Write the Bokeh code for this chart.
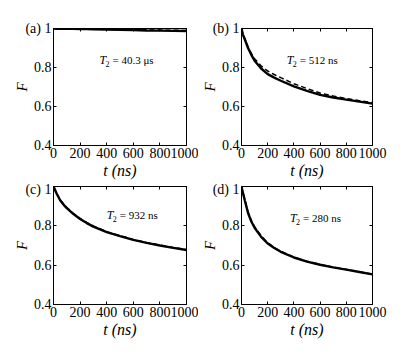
from bokeh.plotting import figure
from bokeh.layouts import column, row
from bokeh.models import LinearAxis, FixedTicker, CustomJSTickFormatter, Range1d, Label
from bokeh.embed import file_html
from bokeh.resources import INLINE

t = [0, 10, 25, 50, 75, 100, 150, 200, 250, 300, 400, 500, 600, 700, 800, 900, 1000]

a_solid = [1.0, 1.0, 0.999, 0.999, 0.999, 0.998, 0.998, 0.997, 0.997, 0.996, 0.995, 0.993, 0.992, 0.990, 0.989, 0.988, 0.987]
a_dash = [1.0, 1.0, 1.0, 0.999, 0.999, 0.999, 0.998, 0.998, 0.997, 0.997, 0.996, 0.995, 0.994, 0.993, 0.992, 0.991, 0.990]

b_solid = [1.0, 0.97, 0.945, 0.90, 0.865, 0.835, 0.795, 0.766, 0.748, 0.732, 0.703, 0.68, 0.66, 0.646, 0.635, 0.625, 0.615]
b_dash = [1.0, 0.972, 0.948, 0.905, 0.872, 0.845, 0.808, 0.782, 0.764, 0.748, 0.717, 0.692, 0.669, 0.654, 0.641, 0.63, 0.62]

c_solid = [1.0, 0.985, 0.962, 0.93, 0.908, 0.89, 0.86, 0.835, 0.814, 0.796, 0.768, 0.748, 0.729, 0.713, 0.700, 0.688, 0.677]
c_dash = [1.0, 0.986, 0.964, 0.933, 0.911, 0.893, 0.863, 0.838, 0.817, 0.799, 0.770, 0.750, 0.731, 0.715, 0.702, 0.690, 0.679]

d_solid = [1.0, 0.97, 0.93, 0.865, 0.822, 0.79, 0.744, 0.71, 0.687, 0.668, 0.639, 0.618, 0.602, 0.589, 0.577, 0.565, 0.553]
d_dash = [1.0, 0.972, 0.934, 0.87, 0.827, 0.796, 0.749, 0.714, 0.690, 0.671, 0.641, 0.620, 0.604, 0.590, 0.578, 0.566, 0.554]

panel_labels = ["(a)", "(b)", "(c)", "(d)"]
t2_texts = ["= 40.3 \u03bcs", "= 512 ns", "= 932 ns", "= 280 ns"]
t2_pos = [(346, 0.836), (346, 0.836), (400, 0.853), (370, 0.84)]

x_ticks = [0, 200, 400, 600, 800, 1000]
y_ticks = [0.4, 0.6, 0.8, 1.0]

SERIF = "Liberation Serif"


def hidden_axis(ticks):
    return LinearAxis(ticker=FixedTicker(ticks=ticks), major_tick_in=3, major_tick_out=0,
                      minor_tick_in=0, minor_tick_out=0, major_label_text_font_size="1px",
                      major_label_text_color=None, major_label_standoff=0,
                      axis_line_color="black", major_tick_line_color="black")


def make_panel(solid, dash, plabel, t2text, t2xy, width, height, bl, br, bt, bb):
    p = figure(width=width, height=height, output_backend="svg", toolbar_location=None,
               x_range=Range1d(0, 1000), y_range=Range1d(0.4, 1.0),
               min_border_left=bl, min_border_right=br, min_border_top=bt, min_border_bottom=bb,
               x_axis_label="t (ns)", y_axis_label="F")
    p.grid.visible = False
    p.outline_line_color = "black"
    p.outline_line_width = 1
    p.background_fill_color = "white"
    p.border_fill_color = "white"

    # the panel letter sits just left of the "1" tick label, as in the reference
    fmt_y = CustomJSTickFormatter(args=dict(letter=plabel),
                                  code="return (tick == 1) ? letter + ' 1' : tick.toFixed(1);")
    for ax in p.xaxis:
        ax.ticker = FixedTicker(ticks=x_ticks)
    for ax in p.yaxis:
        ax.ticker = FixedTicker(ticks=y_ticks)
        ax.formatter = fmt_y
    for ax in list(p.xaxis) + list(p.yaxis):
        ax.major_tick_in = 3
        ax.major_tick_out = 0
        ax.minor_tick_in = 0
        ax.minor_tick_out = 0
        ax.axis_line_color = "black"
        ax.major_tick_line_color = "black"
        ax.major_label_text_font = SERIF
        ax.major_label_text_font_size = "14px"
        ax.major_label_text_color = "black"
        ax.major_label_standoff = 2
        ax.axis_label_text_font = SERIF
        ax.axis_label_text_font_style = "italic"
        ax.axis_label_text_color = "black"
        ax.axis_label_standoff = 1
    p.xaxis.axis_label_text_font_size = "16px"
    p.yaxis.axis_label_text_font_size = "15px"
    p.yaxis.axis_label_standoff = -8

    p.add_layout(hidden_axis(x_ticks), "above")
    p.add_layout(hidden_axis(y_ticks), "right")

    p.line(t, solid, line_color="black", line_width=2.4)
    p.line(t, dash, line_color="black", line_width=1.5, line_dash="5 3")

    tx, ty = t2xy
    p.add_layout(Label(x=tx, y=ty, text="T", text_align="left", text_baseline="middle",
                       text_font=SERIF, text_font_style="italic", text_font_size="12px",
                       text_color="black"))
    p.add_layout(Label(x=tx, y=ty, x_offset=6, y_offset=-4, text="2", text_align="left",
                       text_baseline="middle", text_font=SERIF, text_font_size="8px",
                       text_color="black"))
    p.add_layout(Label(x=tx, y=ty, x_offset=13, text=t2text, text_align="left",
                       text_baseline="middle", text_font=SERIF, text_font_size="11px",
                       text_color="black"))
    return p


pa = make_panel(a_solid, a_dash, panel_labels[0], t2_texts[0], t2_pos[0], 198, 181, 53, 12, 28, 36)
pb = make_panel(b_solid, b_dash, panel_labels[1], t2_texts[1], t2_pos[1], 199, 181, 41, 25, 28, 36)
pc = make_panel(c_solid, c_dash, panel_labels[2], t2_texts[2], t2_pos[2], 198, 163, 53, 12, 5, 40)
pd = make_panel(d_solid, d_dash, panel_labels[3], t2_texts[3], t2_pos[3], 199, 163, 41, 25, 5, 40)

layout = column(row(pa, pb), row(pc, pd))
open("out.html", "w").write(file_html(layout, INLINE))
